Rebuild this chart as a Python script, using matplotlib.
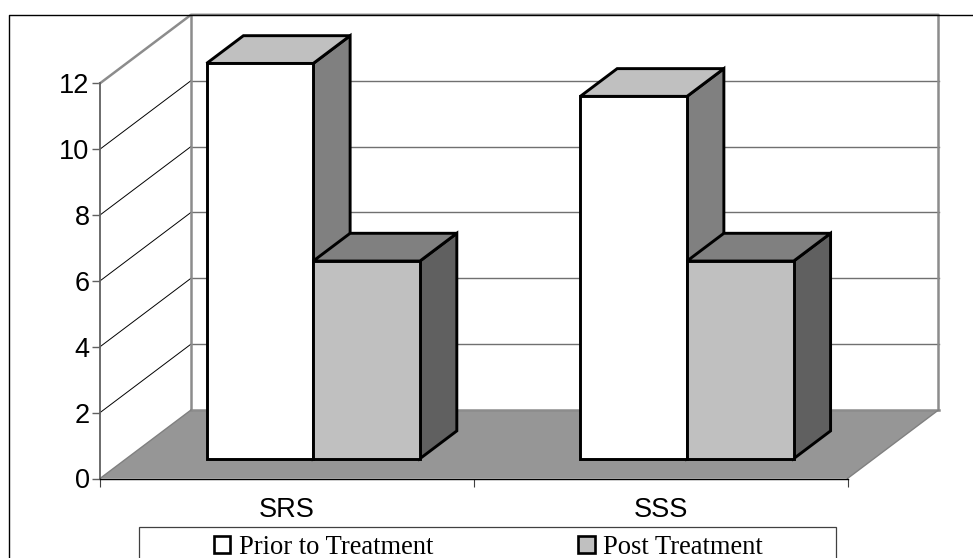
import matplotlib.pyplot as plt
from matplotlib.lines import Line2D
from matplotlib.patches import Patch, Polygon, Rectangle

categories = ['SRS', 'SSS']
series_names = ['Prior to Treatment', 'Post Treatment']
prior_values = [12, 11]
post_values = [6, 6]
y_ticks = [0, 2, 4, 6, 8, 10, 12]

W, H = 973, 558

# depth of the fake 3d box, in data units
DEPTH_X = 91 / 373.75
DEPTH_Y = 68.5 / 32.93
BAR_WIDTH = 106.7 / 373.75
BAR_FRONT = 0.29
BAR_DEPTH = 0.405

front_colors = ['#ffffff', '#c0c0c0']
top_colors = ['#c0c0c0', '#808080']
side_colors = ['#808080', '#606060']


def proj(x, y, d):
    return (x + d * DEPTH_X, y + d * DEPTH_Y)


fig = plt.figure(figsize=(W / 100, H / 100), dpi=100)
ax = fig.add_axes([100 / W, (H - 478.5) / H, 747.5 / W, 395.2 / H])
ax.set_xlim(0, 2)
ax.set_ylim(0, 12)
ax.patch.set_visible(False)

# floor
ax.add_patch(Polygon([proj(0, 0, 0), proj(2, 0, 0), proj(2, 0, 1), proj(0, 0, 1)],
                     facecolor='#969696', edgecolor='none', clip_on=False, zorder=1))

# back wall and side wall grid
for v in y_ticks[1:-1]:
    ax.plot(*zip(proj(0, v, 1), proj(2, v, 1)), color='#707070', lw=1.0,
            clip_on=False, zorder=1.5)
    ax.plot(*zip(proj(0, v, 0), proj(0, v, 1)), color='black', lw=0.7,
            clip_on=False, zorder=1.5)

wall = [[proj(0, 12, 0), proj(0, 12, 1), proj(2, 12, 1), proj(2, 0, 1)],
        [proj(0, 0, 1), proj(0, 12, 1)],
        [proj(0, 0, 1), proj(2, 0, 1)]]
for pts in wall:
    ax.plot(*zip(*pts), color='#8c8c8c', lw=1.8, clip_on=False, zorder=1.6)
ax.plot(*zip(proj(0, 0, 0), proj(0, 0, 1)), color='#808080', lw=1.0, clip_on=False, zorder=1.6)
ax.plot(*zip(proj(2, 0, 0), proj(2, 0, 1)), color='#808080', lw=1.0, clip_on=False, zorder=1.6)

# bars, first series then second so the second one sits in front
z = 2
for i, cat in enumerate(categories):
    for s, vals in enumerate([prior_values, post_values]):
        x0 = i + 0.5 - BAR_WIDTH + s * BAR_WIDTH
        x1 = x0 + BAR_WIDTH
        v = vals[i]
        d0, d1 = BAR_FRONT, BAR_FRONT + BAR_DEPTH
        style = dict(edgecolor='black', lw=2.1, joinstyle='miter', clip_on=False, zorder=z)
        ax.add_patch(Polygon([proj(x1, 0, d0), proj(x1, 0, d1), proj(x1, v, d1), proj(x1, v, d0)],
                             facecolor=side_colors[s], **style))
        ax.add_patch(Polygon([proj(x0, v, d0), proj(x1, v, d0), proj(x1, v, d1), proj(x0, v, d1)],
                             facecolor=top_colors[s], **style))
        ax.add_patch(Polygon([proj(x0, 0, d0), proj(x1, 0, d0), proj(x1, v, d0), proj(x0, v, d0)],
                             facecolor=front_colors[s], **style))
        z += 1

# axes
for name in ['top', 'right']:
    ax.spines[name].set_visible(False)
ax.spines['left'].set_color('#606060')
ax.spines['left'].set_linewidth(1.3)
ax.spines['bottom'].set_color('black')
ax.spines['bottom'].set_linewidth(1.0)
ax.set_yticks(y_ticks)
ax.set_yticklabels([str(t) for t in y_ticks], family='Liberation Sans', fontsize=19.5)
ax.tick_params(axis='y', length=5.5, width=1.0, color='#606060', pad=2)
ax.set_xticks([0, 1, 2])
ax.set_xticklabels([])
ax.set_xticks([0.5, 1.5], minor=True)
ax.set_xticklabels(categories, minor=True, family='Liberation Sans', fontsize=19.5)
ax.tick_params(axis='x', which='major', length=5.5, width=0.8, color='#404040')
ax.tick_params(axis='x', which='minor', length=0, pad=13)

# outer frame, only top and left are inside the picture
fig.add_artist(Line2D([8.5 / W, 8.5 / W, 1], [0, (H - 14.5) / H, (H - 14.5) / H],
                      color='black', lw=1.0))

# legend box runs off the bottom edge
fig.add_artist(Rectangle((139 / W, -10 / H), 697 / W, (H - 527 + 10) / H,
                         transform=fig.transFigure, facecolor='white',
                         edgecolor='#404040', lw=0.9, zorder=5))
handles = [Patch(facecolor=front_colors[0], edgecolor='black', lw=1.9),
           Patch(facecolor=front_colors[1], edgecolor='black', lw=1.9)]
leg = fig.legend(handles, series_names, ncol=2, loc='lower left',
                 bbox_to_anchor=(214 / W, -2 / H), frameon=False, borderpad=0,
                 borderaxespad=0, prop={'family': 'Liberation Serif', 'size': 19.1},
                 handlelength=0.62, handleheight=0.62, handletextpad=0.33,
                 columnspacing=5.45)
leg.set_zorder(6)

fig.savefig('out.png', dpi=100)
